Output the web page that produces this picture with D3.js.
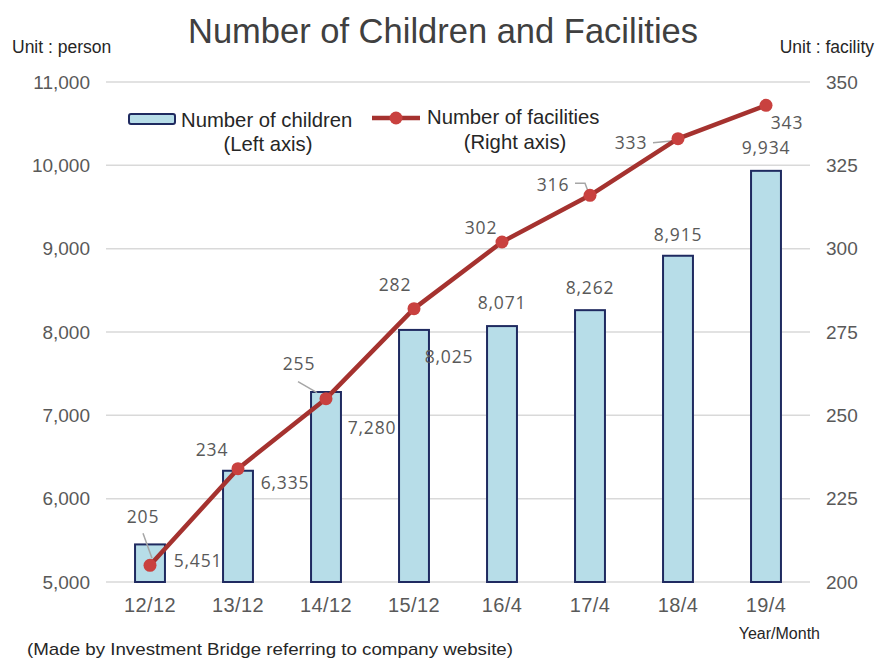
<!DOCTYPE html>
<html>
<head>
<meta charset="utf-8">
<script src="https://cdn.jsdelivr.net/npm/d3@7/dist/d3.min.js"></script>
<style>
  html, body { margin: 0; padding: 0; background: #ffffff; }
  svg { display: block; }
</style>
</head>
<body>
<svg id="chart" width="876" height="659"></svg>
<script>
// ---------- data ----------
const categories = ["12/12", "13/12", "14/12", "15/12", "16/4", "17/4", "18/4", "19/4"];
const children = [5451, 6335, 7280, 8025, 8071, 8262, 8915, 9934];
const facilities = [205, 234, 255, 282, 302, 316, 333, 343];
const leftTicks = [5000, 6000, 7000, 8000, 9000, 10000, 11000];
const rightTicks = [200, 225, 250, 275, 300, 325, 350];

// label placement (offsets from the mark), layout only
const childLabelOffset = [[48, 16], [47, 12], [46, 36], [35, 27], [0, -23], [0, -22], [0, -21], [0, -23]];
const facLabelOffset = [[-7, -48], [-26, -19], [-27, -35], [-19, -24], [-21, -14], [-37, -10], [-47, 4], [21, 18]];

// ---------- layout ----------
const svg = d3.select("#chart");
const X0 = 106, X1 = 810, Y0 = 82, Y1 = 582;

const x = d3.scaleBand().domain(categories).range([X0, X1]).paddingInner(0.66).paddingOuter(0.33);
const yL = d3.scaleLinear().domain([5000, 11000]).range([Y1, Y0]);
const yR = d3.scaleLinear().domain([200, 350]).range([Y1, Y0]);
const cx = c => x(c) + x.bandwidth() / 2;

const fmt = d3.format(",");
const grey = "#595959";
const sans = "Liberation Sans, Arial, sans-serif";

// title
svg.append("text").attr("x", 443).attr("y", 43).attr("text-anchor", "middle")
  .attr("font-family", sans).attr("font-size", 34.5)
  .attr("fill", "#404040").text("Number of Children and Facilities");

svg.append("text").attr("x", 12).attr("y", 53)
  .attr("font-family", sans).attr("font-size", 17.5)
  .attr("fill", "#262626").text("Unit : person");
svg.append("text").attr("x", 874).attr("y", 53).attr("text-anchor", "end")
  .attr("font-family", sans).attr("font-size", 17.5)
  .attr("fill", "#262626").text("Unit : facility");

// gridlines
svg.append("g").selectAll("line").data(leftTicks).join("line")
  .attr("x1", X0).attr("x2", X1)
  .attr("y1", d => yL(d)).attr("y2", d => yL(d))
  .attr("stroke", "#d9d9d9").attr("stroke-width", 1.5);

// left axis
const gL = svg.append("g").attr("transform", `translate(${X0 - 14},0)`)
  .call(d3.axisLeft(yL).tickValues(leftTicks).tickFormat(fmt).tickSize(0).tickPadding(2));
gL.select(".domain").remove();
gL.selectAll("text").attr("font-family", sans)
  .attr("font-size", 19).attr("fill", grey);

// right axis
const gR = svg.append("g").attr("transform", `translate(${X1 + 14},0)`)
  .call(d3.axisRight(yR).tickValues(rightTicks).tickSize(0).tickPadding(2));
gR.select(".domain").remove();
gR.selectAll("text").attr("font-family", sans)
  .attr("font-size", 19).attr("fill", grey);

// x axis
const gX = svg.append("g").attr("transform", `translate(0,${Y1 + 6})`)
  .call(d3.axisBottom(x).tickSize(0).tickPadding(10));
gX.select(".domain").remove();
gX.selectAll("text").attr("font-family", sans)
  .attr("font-size", 20).attr("fill", grey).attr("letter-spacing", 0.4);

svg.append("text").attr("x", 820).attr("y", 639).attr("text-anchor", "end")
  .attr("font-family", sans).attr("font-size", 16)
  .attr("fill", "#262626").text("Year/Month");

svg.append("text").attr("x", 27).attr("y", 655)
  .attr("font-family", sans).attr("font-size", 17)
  .attr("fill", "#262626").attr("textLength", 486).attr("lengthAdjust", "spacingAndGlyphs")
  .text("(Made by Investment Bridge referring to company website)");

// bars
svg.append("g").selectAll("rect").data(children).join("rect")
  .attr("x", (d, i) => x(categories[i]))
  .attr("y", d => yL(d))
  .attr("width", x.bandwidth())
  .attr("height", d => Y1 - yL(d))
  .attr("fill", "#b7dde8").attr("stroke", "#1f2a60").attr("stroke-width", 2);

// bar labels
const dataFont = "Open Sans, Noto Sans, sans-serif";
svg.append("g").selectAll("text").data(children).join("text")
  .attr("x", (d, i) => cx(categories[i]) + childLabelOffset[i][0])
  .attr("y", (d, i) => yL(d) + childLabelOffset[i][1])
  .attr("dy", "0.35em").attr("text-anchor", "middle")
  .attr("font-family", dataFont).attr("font-size", 17.5).attr("letter-spacing", 0.8)
  .attr("fill", grey).text(d => fmt(d));

// leader lines
const lead = svg.append("g").attr("stroke", "#a6a6a6").attr("stroke-width", 1.5).attr("fill", "none");
const p = i => [cx(categories[i]), yR(facilities[i])];
lead.append("path").attr("d", () => { const [a, b] = p(0); return `M${a - 7},${b - 32} L${a + 2},${b - 7}`; });
lead.append("path").attr("d", () => { const [a, b] = p(2); return `M${a - 28},${b - 17} L${a - 9},${b - 6}`; });
lead.append("path").attr("d", () => { const [a, b] = p(5); return `M${a - 15},${b - 12} L${a - 5},${b - 12} L${a - 2},${b - 4}`; });
lead.append("path").attr("d", () => { const [a, b] = p(6); return `M${a - 25},${b + 4} L${a - 4},${b + 2}`; });

// line
const line = d3.line().x((d, i) => cx(categories[i])).y(d => yR(d));
svg.append("path").datum(facilities).attr("d", line)
  .attr("fill", "none").attr("stroke", "#a5322f").attr("stroke-width", 4.5)
  .attr("stroke-linejoin", "round");
svg.append("g").selectAll("circle").data(facilities).join("circle")
  .attr("cx", (d, i) => cx(categories[i])).attr("cy", d => yR(d)).attr("r", 6.5)
  .attr("fill", "#c9413f");

// line labels
svg.append("g").selectAll("text").data(facilities).join("text")
  .attr("x", (d, i) => cx(categories[i]) + facLabelOffset[i][0])
  .attr("y", (d, i) => yR(d) + facLabelOffset[i][1])
  .attr("dy", "0.35em").attr("text-anchor", "middle")
  .attr("font-family", dataFont).attr("font-size", 17.5).attr("letter-spacing", 0.8)
  .attr("fill", grey).text(d => d);

// legend
const lg = svg.append("g");
lg.append("rect").attr("x", 129).attr("y", 114).attr("width", 46).attr("height", 10).attr("rx", 2)
  .attr("fill", "#b7dde8").attr("stroke", "#1f2a60").attr("stroke-width", 2);
lg.append("text").attr("x", 181).attr("y", 127)
  .attr("font-family", sans).attr("font-size", 20.3)
  .attr("fill", "#262626").text("Number of children");
lg.append("text").attr("x", 268).attr("y", 151).attr("text-anchor", "middle")
  .attr("font-family", sans).attr("font-size", 20.3)
  .attr("fill", "#262626").text("(Left axis)");
lg.append("line").attr("x1", 372).attr("x2", 420).attr("y1", 118).attr("y2", 118)
  .attr("stroke", "#a5322f").attr("stroke-width", 4.5);
lg.append("circle").attr("cx", 396).attr("cy", 118).attr("r", 6.5).attr("fill", "#c9413f");
lg.append("text").attr("x", 427).attr("y", 124)
  .attr("font-family", sans).attr("font-size", 20.3)
  .attr("fill", "#262626").text("Number of facilities");
lg.append("text").attr("x", 515).attr("y", 149).attr("text-anchor", "middle")
  .attr("font-family", sans).attr("font-size", 20.3)
  .attr("fill", "#262626").text("(Right axis)");
</script>
</body>
</html>
